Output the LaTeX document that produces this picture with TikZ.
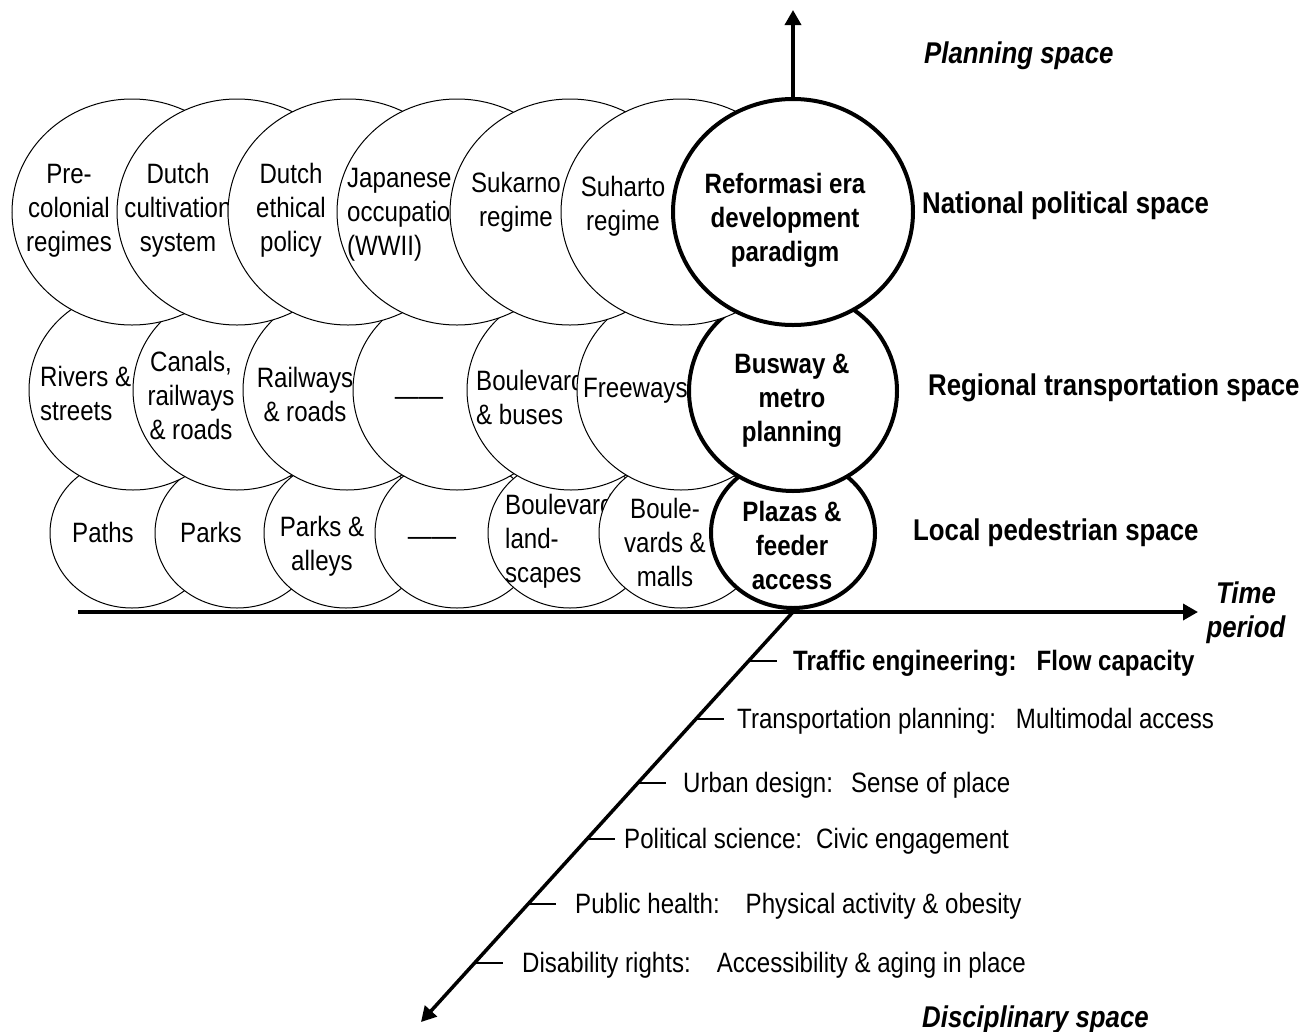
\documentclass[tikz,border=0pt]{standalone}
\usepackage{fontspec}
\setmainfont{Liberation Sans}[FakeStretch=0.86]
\usetikzlibrary{shapes.geometric,arrows.meta}
\newcommand{\cfont}{\fontsize{28pt}{34pt}\selectfont}
\newcommand{\lfont}{\fontsize{30pt}{34pt}\selectfont\bfseries}
\tikzset{
  bub/.style={ellipse, draw, fill=white, line width=1pt, inner sep=0pt},
  bubB/.style={bub, line width=4pt},
  rowA/.style={minimum width=240pt, minimum height=226pt},
  rowB/.style={minimum width=208pt, minimum height=200pt},
  rowC/.style={minimum width=164pt, minimum height=150pt},
  ctext/.style={font=\cfont, align=center, inner sep=0pt},
  cbold/.style={font=\cfont\bfseries, align=center, inner sep=0pt},
  ltext/.style={font=\cfont, align=left, inner sep=0pt, anchor=west},
  slabel/.style={font=\lfont, inner sep=0pt, anchor=base west},
  ilabel/.style={font=\lfont\itshape, inner sep=0pt},
  dlabel/.style={font=\cfont, inner sep=0pt, anchor=base west},
  axisline/.style={line width=3.5pt, -{Triangle[length=15pt,width=16pt]}},
  tickline/.style={line width=1.5pt},
}
\begin{document}
\begin{tikzpicture}[x=1pt,y=-1pt]
\fill[white] (0,0) rectangle (1309,1031);
\useasboundingbox (0,0) rectangle (1309,1031);

% ---- Row 3: local pedestrian space
\node[bub,rowC] (n31) at (132,533) {};
\node[ctext] (t31) at (103,536) {\strut Paths};
\node[bub,rowC] (n32) at (237,533) {};
\node[ctext] (t32) at (211,536) {\strut Parks};
\node[bub,rowC] (n33) at (346,533) {};
\node[ctext] (t33) at (322,547) {\strut Parks \&\\\strut alleys};
\node[bub,rowC] (n34) at (457,533) {};
\node[ctext] (t34) at (432,539) {\strut ——};
\node[bub,rowC] (n35) at (570,533) {};
\node[ltext] (t35) at (505,542) {\strut Boulevard\\\strut land-\\\strut scapes};
\node[bub,rowC] (n36) at (681,533) {};
\node[ctext] (t36) at (665,546) {\strut Boule-\\\strut vards \&\\\strut malls};
\node[bubB,rowC] (n37) at (793,533) {};
\node[cbold] (t37) at (792,549) {\strut Plazas \&\\\strut feeder\\\strut access};

% ---- Row 2: regional transportation space
\node[bub,rowB] (n21) at (133,390) {};
\node[ltext] (t21) at (40,397) {\strut Rivers \&\\\strut streets};
\node[bub,rowB] (n22) at (237,390) {};
\node[ctext] (t22) at (191,399) {\strut Canals,\\\strut railways\\\strut \& roads};
\node[bub,rowB] (n23) at (347,390) {};
\node[ctext] (t23) at (305,398) {\strut Railways\\\strut \& roads};
\node[bub,rowB] (n24) at (457,390) {};
\node[ctext] (t24) at (419,399) {\strut ——};
\node[bub,rowB] (n25) at (571,390) {};
\node[ltext] (t25) at (476,401) {\strut Boulevards\\\strut \& buses};
\node[bub,rowB] (n26) at (681,390) {};
\node[ltext] (t26) at (583,391) {\strut Freeways};
\node[bubB,rowB] (n27) at (793,391) {};
\node[cbold] (t27) at (792,401) {\strut Busway \&\\\strut metro\\\strut planning};

% ---- Row 1: national political space
\node[bub,rowA] (n11) at (132,212) {};
\node[ctext] (t11) at (69,211) {\strut Pre-\\\strut colonial\\\strut regimes};
\node[bub,rowA] (n12) at (237,212) {};
\node[ctext] (t12) at (178,211) {\strut Dutch\\\strut cultivation\\\strut system};
\node[bub,rowA] (n13) at (348,212) {};
\node[ctext] (t13) at (291,211) {\strut Dutch\\\strut ethical\\\strut policy};
\node[bub,rowA] (n14) at (457,212) {};
\node[ltext] (t14) at (347,215) {\strut Japanese\\\strut occupation\\\strut (WWII)};
\node[bub,rowA] (n15) at (570,212) {};
\node[ctext] (t15) at (516,203) {\strut Sukarno\\\strut regime};
\node[bub,rowA] (n16) at (681,212) {};
\node[ctext] (t16) at (623,207) {\strut Suharto\\\strut regime};
\node[bubB,rowA] (n17) at (793,212) {};
\node[cbold] (t17) at (785,221) {\strut Reformasi era\\\strut development\\\strut paradigm};

% ---- axes
\coordinate (xstart) at (78,612);
\coordinate (xend) at (1198,612);
\coordinate (yend) at (793,10);
\coordinate (orig) at (793,612);
\coordinate (zend) at (421,1022);
\draw[axisline] (n17.north) -- (yend);
\draw[axisline] (xstart) -- (xend);
\draw[axisline] (orig) -- (zend);

% ---- axis labels
\node[ilabel, anchor=base west] (planning) at (924,63) {Planning space};
\node[slabel] (national) at (922,213) {National political space};
\node[slabel] (regional) at (928,395) {Regional transportation space};
\node[slabel] (local) at (913,540) {Local pedestrian space};
\node[ilabel, align=center] (timep) at (1246,614) {\strut Time\\\strut period};
\node[ilabel, anchor=base west] (disc) at (922,1027) {Disciplinary space};

% ---- disciplinary ticks and labels
\coordinate (a1) at (748.5,661); \coordinate (b1) at (776.5,661);
\coordinate (a2) at (696,719);   \coordinate (b2) at (724,719);
\coordinate (a3) at (638,783);   \coordinate (b3) at (666,783);
\coordinate (a4) at (587,839);   \coordinate (b4) at (615,839);
\coordinate (a5) at (528,904);   \coordinate (b5) at (556,904);
\coordinate (a6) at (474.6,963); \coordinate (b6) at (502.6,963);
\foreach \i in {1,...,6} {\draw[tickline] (a\i) -- (b\i);}
\node[dlabel, font=\cfont\bfseries] (d1) at (793,670) {Traffic engineering:\hspace{20pt}Flow capacity};
\node[dlabel] (d2) at (737,728) {Transportation planning:\hspace{20pt}Multimodal access};
\node[dlabel] (d3) at (683,792) {Urban design:\hspace{18pt}Sense of place};
\node[dlabel] (d4) at (624,848) {Political science:\hspace{14pt}Civic engagement};
\node[dlabel] (d5) at (575,913) {Public health:\hspace{26pt}Physical activity \& obesity};
\node[dlabel] (d6) at (522,972) {Disability rights:\hspace{26pt}Accessibility \& aging in place};
\end{tikzpicture}
\end{document}
